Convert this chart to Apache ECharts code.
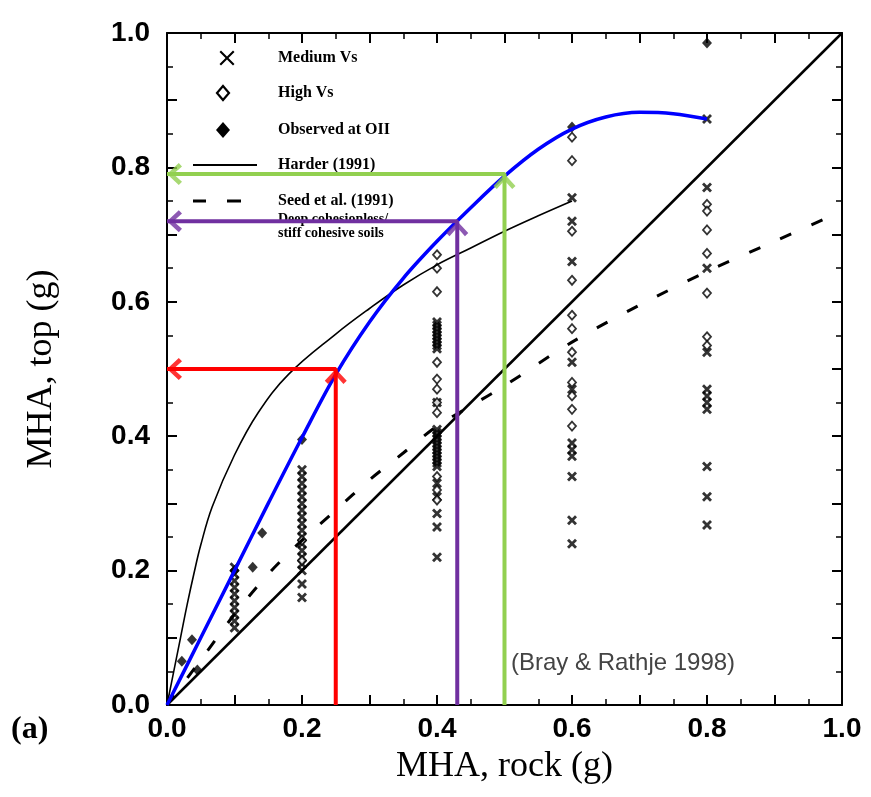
<!DOCTYPE html>
<html><head><meta charset="utf-8">
<script src="https://cdn.jsdelivr.net/npm/echarts@6/dist/echarts.min.js"></script>
<style>html,body{margin:0;padding:0;background:#fff}#c{width:871px;height:797px}</style>
</head><body><div id="c"></div>
<script>
// ---- data ----
const tickLabels = ['0.0','0.2','0.4','0.6','0.8','1.0'];

const oneToOneX = [0, 1];
const oneToOneY = [0, 1];

const harderX = [0, 0.01, 0.02, 0.03, 0.04, 0.05, 0.067, 0.1, 0.135, 0.18, 0.25, 0.3, 0.35, 0.4, 0.45, 0.5, 0.55, 0.6];
const harderY = [0, 0.05, 0.1, 0.15, 0.196, 0.238, 0.295, 0.372, 0.435, 0.492, 0.552, 0.59, 0.625, 0.655, 0.68, 0.705, 0.728, 0.75];

const seedX = [0, 0.05, 0.1, 0.15, 0.2, 0.25, 0.3, 0.35, 0.4, 0.45, 0.5, 0.6, 0.7, 0.8, 0.9, 1.0];
const seedY = [0, 0.067, 0.135, 0.195, 0.245, 0.29, 0.335, 0.375, 0.415, 0.445, 0.475, 0.54, 0.595, 0.645, 0.69, 0.735];

const blueX = [0, 0.05, 0.1, 0.15, 0.2, 0.25, 0.3, 0.35, 0.4, 0.45, 0.5, 0.55, 0.6, 0.65, 0.7, 0.75, 0.8];
const blueY = [0, 0.10, 0.2, 0.3, 0.398, 0.492, 0.57, 0.635, 0.69, 0.74, 0.787, 0.827, 0.857, 0.875, 0.882, 0.88, 0.872];

const mediumX = [
  0.1,0.1,0.1,0.1,0.1,0.1,0.1,0.1,0.1,0.1,
  0.2,0.2,0.2,0.2,0.2,0.2,0.2,0.2,0.2,0.2,0.2,0.2,0.2,0.2,0.2,0.2,0.2,0.2,
  0.4,0.4,0.4,0.4,0.4,0.4,0.4,0.4,0.4,0.4,0.4,0.4,0.4,0.4,0.4,0.4,0.4,0.4,0.4,0.4,0.4,0.4,0.4,0.4,0.4,0.4,0.4,
  0.6,0.6,0.6,0.6,0.6,0.6,0.6,0.6,0.6,0.6,0.6,
  0.8,0.8,0.8,0.8,0.8,0.8,0.8,0.8,0.8,0.8,0.8
];
const mediumY = [
  0.115,0.125,0.135,0.145,0.155,0.165,0.175,0.185,0.195,0.205,
  0.16,0.18,0.20,0.21,0.22,0.23,0.24,0.25,0.26,0.27,0.28,0.29,0.30,0.31,0.32,0.33,0.34,0.35,
  0.57,0.565,0.56,0.555,0.55,0.545,0.54,0.535,0.53,0.45,0.41,0.405,0.40,0.395,0.39,0.385,0.38,0.375,0.37,0.365,0.36,0.355,0.33,0.31,0.285,0.265,0.22,
  0.755,0.72,0.66,0.51,0.47,0.39,0.38,0.37,0.34,0.275,0.24,
  0.872,0.77,0.65,0.525,0.47,0.46,0.45,0.44,0.355,0.31,0.268
];

const highX = [
  0.2,0.2,
  0.4,0.4,0.4,0.4,0.4,0.4,0.4,0.4,0.4,0.4,0.4,
  0.6,0.6,0.6,0.6,0.6,0.6,0.6,0.6,0.6,0.6,0.6,
  0.8,0.8,0.8,0.8,0.8,0.8,0.8
];
const highY = [
  0.215,0.245,
  0.67,0.65,0.615,0.51,0.485,0.47,0.45,0.435,0.34,0.32,0.305,
  0.845,0.81,0.705,0.632,0.58,0.56,0.525,0.48,0.46,0.44,0.415,
  0.745,0.735,0.707,0.672,0.613,0.548,0.535
];

const observedX = [0.022, 0.037, 0.045, 0.1, 0.127, 0.141, 0.2, 0.6, 0.8];
const observedY = [0.065, 0.097, 0.052, 0.2, 0.205, 0.256, 0.395, 0.86, 0.985];

const arrowX = [0.25, 0.43, 0.5];
const arrowY = [0.5, 0.72, 0.79];

const legendLabels = ['Medium Vs', 'High Vs', 'Observed at OII', 'Harder (1991)', 'Seed et al. (1991)', 'Deep cohesionless/', 'stiff cohesive soils'];

// ---- helpers ----
const zip = (xs, ys) => xs.map((x, i) => [x, ys[i]]);
const XMARK = 'path://M0,2 L2,0 L5,3 L8,0 L10,2 L7,5 L10,8 L8,10 L5,7 L2,10 L0,8 L3,5 Z';
const CHEVRON = 'path://M10,0 L20,11 L17,14 L10,6 L3,14 L0,11 Z';

function tickFmt(v) {
  const k = Math.round(v * 10);
  return k % 2 === 0 ? tickLabels[k / 2] : '';
}

function makeAxis(extra) {
  return Object.assign({
    type: 'value', min: 0, max: 1, interval: 0.1,
    axisLine: { show: true, onZero: false, lineStyle: { color: '#000', width: 2 } },
    axisTick: { show: true, inside: true, length: 10, lineStyle: { color: '#000', width: 2 } },
    minorTick: { show: true, splitNumber: 2, length: 6, lineStyle: { color: '#000', width: 1.5 } },
    splitLine: { show: false },
    minorSplitLine: { show: false }
  }, extra);
}

const labelStyle = { fontFamily: 'Liberation Sans', fontWeight: 'bold', fontSize: 28, color: '#000' };
const titleStyle = { fontFamily: 'Liberation Serif', fontSize: 36, color: '#000' };

function arrowSeries(i, color) {
  const x = arrowX[i], y = arrowY[i];
  return [
    { type: 'line', data: [[x, 0], [x, y], [0, y]], symbol: 'none', silent: true, z: 10,
      itemStyle: { color: color }, lineStyle: { color: color, width: 4 } },
    { type: 'scatter', silent: true, z: 11, symbol: CHEVRON, clip: false,
      itemStyle: { color: color },
      data: [
        { value: [x, y], symbolSize: [22, 15], symbolRotate: 0, symbolOffset: [0, 7.5] },
        { value: [0, y], symbolSize: [22, 15], symbolRotate: 90, symbolOffset: [7.5, 0] }
      ] }
  ];
}

// legend drawn as graphic (icons + real text)
const LX = 278;
const legRows = [58, 93, 130, 165, 201, 219, 233];
const legFont = { fontFamily: 'Liberation Serif', fontWeight: 'bold', fill: '#000' };
const legendGraphic = [];
legendLabels.forEach((t, i) => {
  legendGraphic.push({ type: 'text', x: LX, y: legRows[i], z: 5,
    style: Object.assign({ text: t, fontSize: i < 5 ? 16 : 14, verticalAlign: 'middle', align: 'left' }, legFont) });
});
function xmarkPoints(cx, cy, s) {
  const base = [[0,1],[1,0],[5,4],[9,0],[10,1],[6,5],[10,9],[9,10],[5,6],[1,10],[0,9],[4,5]];
  return base.map(p => [cx + (p[0] - 5) * s / 10, cy + (p[1] - 5) * s / 10]);
}
legendGraphic.push(
  { type: 'polygon', z: 5, shape: { points: xmarkPoints(227, 58, 15) }, style: { fill: '#000' } },
  { type: 'polygon', z: 5, shape: { points: [[223, 86], [229, 93], [223, 100], [217, 93]] }, style: { fill: '#fff', stroke: '#000', lineWidth: 2.2 } },
  { type: 'polygon', z: 5, shape: { points: [[223, 122], [230, 130], [223, 138], [216, 130]] }, style: { fill: '#000' } },
  { type: 'line', z: 5, shape: { x1: 193, y1: 165, x2: 257, y2: 165 }, style: { stroke: '#000', lineWidth: 2 } },
  { type: 'line', z: 5, shape: { x1: 193, y1: 201, x2: 206, y2: 201 }, style: { stroke: '#000', lineWidth: 3 } },
  { type: 'line', z: 5, shape: { x1: 227, y1: 201, x2: 241, y2: 201 }, style: { stroke: '#000', lineWidth: 3 } }
);

const chart = echarts.init(document.getElementById('c'));
chart.setOption({
  animation: false,
  backgroundColor: '#fff',
  grid: { left: 167, right: 29, top: 33, bottom: 92, containLabel: false },
  xAxis: [
    makeAxis({ position: 'bottom', name: 'MHA, rock (g)', nameLocation: 'middle', nameGap: 44,
      nameTextStyle: titleStyle,
      axisLabel: { show: true, margin: 10, formatter: tickFmt, ...labelStyle } }),
    makeAxis({ position: 'top', axisLabel: { show: false } })
  ],
  yAxis: [
    makeAxis({ position: 'left', name: 'MHA, top (g)', nameLocation: 'middle', nameGap: 107,
      nameTextStyle: titleStyle,
      axisLabel: { show: true, margin: 17, formatter: tickFmt, ...labelStyle } }),
    makeAxis({ position: 'right', axisLabel: { show: false } })
  ],
  legend: { show: false },
  graphic: legendGraphic.concat([
    { type: 'text', left: 11, top: 714, style: { text: '(a)', fontFamily: 'Liberation Serif', fontWeight: 'bold', fontSize: 32, fill: '#000' } },
    { type: 'text', left: 511, top: 651, style: { text: '(Bray & Rathje 1998)', fontFamily: 'Liberation Sans', fontSize: 24, fill: '#444' } }
  ]),
  series: [
    { name: 'Medium Vs', type: 'scatter', data: zip(mediumX, mediumY), symbol: XMARK, symbolSize: 10,
      itemStyle: { color: '#000' }, z: 3 },
    { name: 'High Vs', type: 'scatter', data: zip(highX, highY), symbol: 'diamond', symbolSize: [8, 9],
      itemStyle: { color: '#fff', borderColor: '#000', borderWidth: 1.8 }, z: 3 },
    { name: 'Observed at OII', type: 'scatter', data: zip(observedX, observedY), symbol: 'diamond', symbolSize: [10, 11],
      itemStyle: { color: '#000' }, z: 3 },
    { name: 'Harder (1991)', type: 'line', data: zip(harderX, harderY), smooth: 0.4, symbol: 'none',
      itemStyle: { color: '#000' }, lineStyle: { color: '#000', width: 1.6 }, z: 4 },
    { name: 'Seed et al. (1991)', type: 'line', data: zip(seedX, seedY), smooth: 0.3, symbol: 'none',
      itemStyle: { color: '#000' }, lineStyle: { color: '#000', width: 3, type: [12, 22] }, z: 4 },
    { name: '1:1', type: 'line', data: zip(oneToOneX, oneToOneY), symbol: 'none',
      itemStyle: { color: '#000' }, lineStyle: { color: '#000', width: 2.5 }, z: 4 },
    { name: 'blue', type: 'line', data: zip(blueX, blueY), smooth: 0.35, symbol: 'none',
      itemStyle: { color: '#0000ff' }, lineStyle: { color: '#0000ff', width: 3.5 }, z: 5 }
  ].concat(arrowSeries(0, '#ff0000'), arrowSeries(1, '#7030a0'), arrowSeries(2, '#92d050'))
});
</script>
</body></html>
